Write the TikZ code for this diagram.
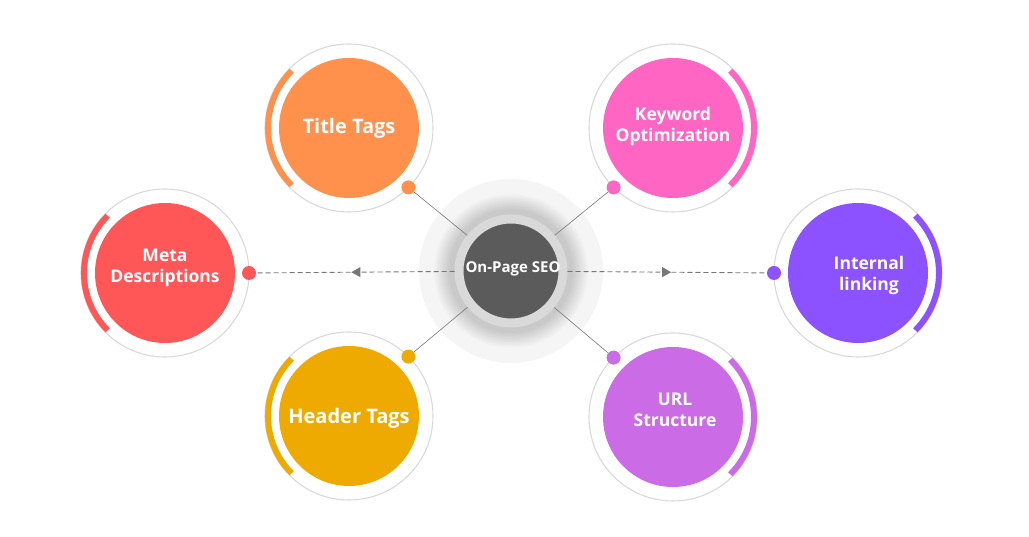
\documentclass[tikz,border=0pt]{standalone}
\usepackage{fontspec}
\setmainfont{Open Sans}
\usetikzlibrary{arrows.meta,decorations.markings}
\definecolor{titlec}{HTML}{FF914D}
\definecolor{keyc}{HTML}{FF66C4}
\definecolor{metac}{HTML}{FF5757}
\definecolor{linkc}{HTML}{8C52FF}
\definecolor{headc}{HTML}{EEAA00}
\definecolor{urlc}{HTML}{CB6CE6}
\definecolor{seoc}{HTML}{5B5B5B}
\definecolor{ringc}{HTML}{D9D9D9}
\definecolor{haloc}{HTML}{F5F5F5}
\definecolor{linec}{HTML}{777777}
\begin{document}
\begin{tikzpicture}[x=1pt,y=1pt,
    topic/.style={circle,minimum size=140pt,inner sep=0pt},
    topictext/.style={text=white,font=\bfseries\fontsize{17.5}{21}\selectfont,align=center},
    bigtext/.style={topictext,font=\bfseries\fontsize{20}{24}\selectfont},
    outring/.style={draw=ringc,line width=1.1pt},
    sidearc/.style={line width=6pt},
    topicdot/.style={circle,minimum size=14pt,inner sep=0pt},
    link/.style={draw=linec,line width=0.6pt},
    hlink/.style={draw=linec,line width=0.9pt,dash pattern=on 5pt off 3pt,
      postaction={decorate,decoration={markings,
        mark=at position 0.52 with {\arrow{Triangle[length=9pt,width=10pt]}}}}}]
  \useasboundingbox (0,0) rectangle (1029,537);
  % halo and soft shadow round the centre
  \fill[haloc] (511,266) circle (92pt);
  \foreach \r in {62,63.5,...,77}
    \fill[black,opacity=0.017] (511,266) circle (\r pt);
  \node[circle,minimum size=104pt,inner sep=0pt,fill=seoc,draw=ringc,line width=9pt] (seo) at (511,266) {};
  \node[text=white,font=\bfseries\fontsize{15}{18}\selectfont] (seotext) at (513,268) {On-Page SEO};
  % topics: name/x/y/colour/arc start/dot angle
  \foreach \n/\x/\y/\c/\a/\d in {title/349/409/titlec/135/-45, key/673/409/keyc/-45/-135,
      meta/165/264/metac/135/0, inlink/858/264/linkc/-45/180,
      head/349/121/headc/135/45, url/673/120/urlc/-45/135} {
    \node[topic,fill=\c] (\n) at (\x,\y) {};
    \draw[outring] (\n.center) circle (84pt);
    \draw[sidearc,\c] ([shift={(\a:81pt)}]\n.center) arc (\a:\a+90:81pt);
    \node[topicdot,fill=\c] (\n-dot) at ([shift={(\d:84pt)}]\n.center) {};
  }
  \node[bigtext] (titletext) at (349,409) {Title Tags};
  \node[topictext] (keytext) at (673,411) {Keyword\\Optimization};
  \node[topictext] (metatext) at (165,269) {Meta\\Descriptions};
  \node[topictext] (inlinktext) at (869,262) {Internal\\linking};
  \node[bigtext] (headtext) at (349,119) {Header Tags};
  \node[topictext] (urltext) at (675,127) {URL\\Structure};
  % connectors
  \draw[link] (title-dot) -- (seo);
  \draw[link] (key-dot) -- (seo);
  \draw[link] (head-dot) -- (seo);
  \draw[link] (url-dot) -- (seo);
  \draw[hlink] (seo) -- (meta-dot);
  \draw[hlink] (seo) -- (inlink-dot);
\end{tikzpicture}
\end{document}
